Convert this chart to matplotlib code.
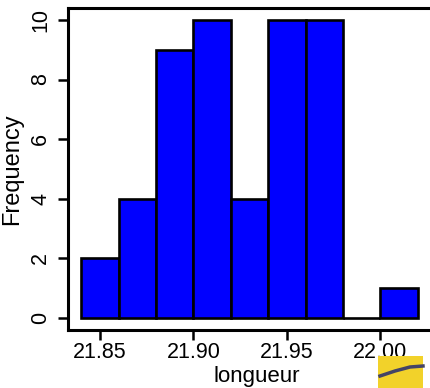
import matplotlib
matplotlib.use("Agg")
import matplotlib.pyplot as plt
from matplotlib.patches import Rectangle
from matplotlib.lines import Line2D

bin_edges = [21.84, 21.86, 21.88, 21.90, 21.92, 21.94, 21.96, 21.98, 22.00, 22.02]
counts = [2, 4, 9, 10, 4, 10, 10, 0, 1]
xticks = [21.85, 21.90, 21.95, 22.00]
xtick_labels = ["21.85", "21.90", "21.95", "22.00"]
yticks = [0, 2, 4, 6, 8, 10]

plt.rcParams['font.family'] = ['Liberation Sans', 'DejaVu Sans']

W, H = 430, 388
fig = plt.figure(figsize=(W / 100, H / 100), dpi=100)
ax = fig.add_axes([68 / W, 58 / H, (445 - 68) / W, (330 - 8) / H])

widths = [bin_edges[i + 1] - bin_edges[i] for i in range(len(counts))]
ax.bar(bin_edges[:-1], counts, width=widths, align='edge',
       color='#0000FF', edgecolor='black', linewidth=1.9)

ax.set_xlim(21.8329, 22.0345)
ax.set_ylim(-0.403, 10.40)
ax.set_xticks(xticks)
ax.set_xticklabels(xtick_labels)
ax.set_yticks(yticks)
ax.set_yticklabels([str(v) for v in yticks], rotation=90, va='center')
ax.tick_params(axis='both', labelsize=15.5, length=7, width=1.8, pad=2)
ax.tick_params(axis='y', pad=5)
for s in ax.spines.values():
    s.set_linewidth(2.2)

ax.set_xlabel("longueur", fontsize=16, labelpad=2)
ax.set_ylabel("Frequency", fontsize=17, labelpad=5)

# logo fragment at bottom right
fig.patches.append(Rectangle((378 / W, 0), (423 - 378) / W, (388 - 356) / H,
                             transform=fig.transFigure, facecolor='#F2D22A',
                             edgecolor='none'))
fig.lines.append(Line2D([380 / W, 395 / W, 410 / W, 423 / W],
                        [1 - 376 / H, 1 - 371 / H, 1 - 367 / H, 1 - 366 / H],
                        transform=fig.transFigure, color='#444466', linewidth=2.5))

fig.savefig("out.png", dpi=100)
